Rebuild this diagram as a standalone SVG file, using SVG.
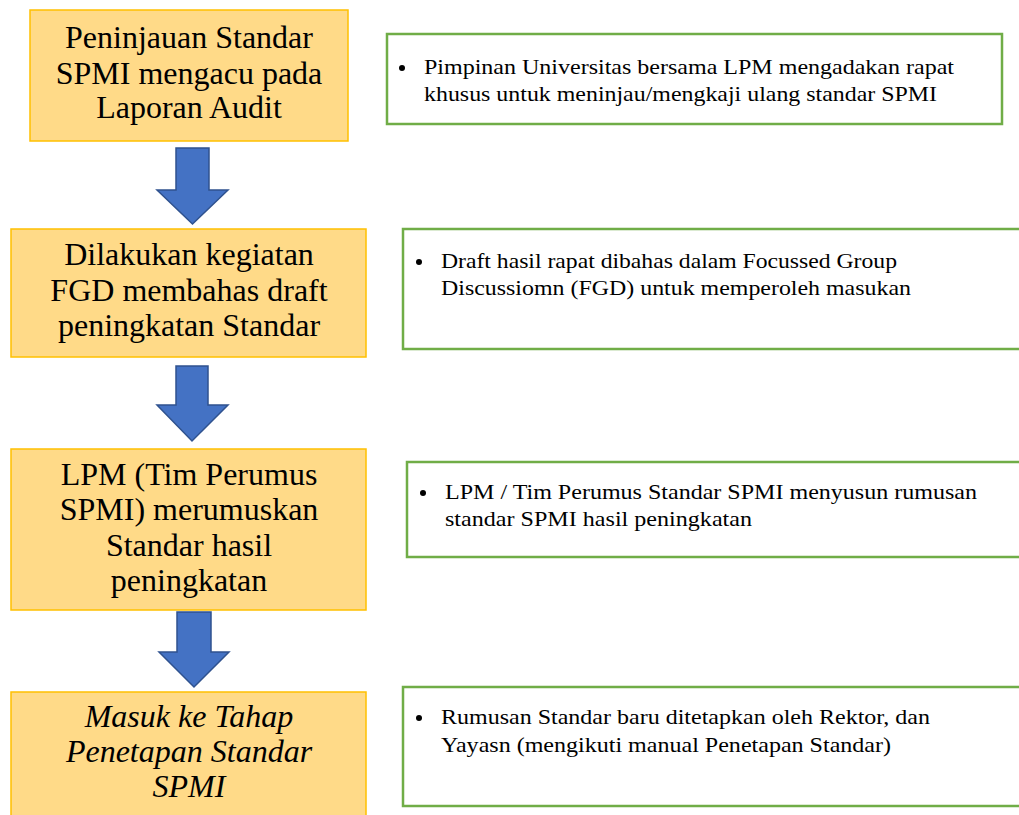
<svg xmlns="http://www.w3.org/2000/svg" width="1019" height="815" viewBox="0 0 1019 815">
<style>
.ob{fill:#FFDA88;stroke:#FFC000;stroke-width:1.5}
.gb{fill:#fff;stroke:#70AD47;stroke-width:2.5}
.ar{fill:#4472C4;stroke:#2F528F;stroke-width:1.5}
</style>
<g id="step1">
<rect class="ob" x="30" y="10" width="318" height="131"/>
<text font-family="Liberation Serif" font-size="32" text-anchor="middle" x="189" y="48">Peninjauan Standar</text>
<text font-family="Liberation Serif" font-size="32" text-anchor="middle" x="189" y="84">SPMI mengacu pada</text>
<text font-family="Liberation Serif" font-size="32" text-anchor="middle" x="189" y="118">Laporan Audit</text>
</g>
<g id="step2">
<rect class="ob" x="11" y="229" width="355" height="128"/>
<text font-family="Liberation Serif" font-size="32" text-anchor="middle" x="189" y="265">Dilakukan kegiatan</text>
<text font-family="Liberation Serif" font-size="32" text-anchor="middle" x="189" y="301">FGD membahas draft</text>
<text font-family="Liberation Serif" font-size="32" text-anchor="middle" x="189" y="336">peningkatan Standar</text>
</g>
<g id="step3">
<rect class="ob" x="11" y="449" width="355" height="161"/>
<text font-family="Liberation Serif" font-size="32" text-anchor="middle" x="189" y="485">LPM (Tim Perumus</text>
<text font-family="Liberation Serif" font-size="32" text-anchor="middle" x="189" y="520">SPMI) merumuskan</text>
<text font-family="Liberation Serif" font-size="32" text-anchor="middle" x="189" y="556">Standar hasil</text>
<text font-family="Liberation Serif" font-size="32" text-anchor="middle" x="189" y="591">peningkatan</text>
</g>
<g id="step4">
<rect class="ob" x="11" y="692" width="355" height="130"/>
<text font-family="Liberation Serif" font-size="32" font-style="italic" text-anchor="middle" x="189" y="727">Masuk ke Tahap</text>
<text font-family="Liberation Serif" font-size="32" font-style="italic" text-anchor="middle" x="189" y="762">Penetapan Standar</text>
<text font-family="Liberation Serif" font-size="32" font-style="italic" text-anchor="middle" x="189" y="797">SPMI</text>
</g>
<g id="note1">
<rect class="gb" x="387" y="34" width="615" height="90"/>
<circle cx="402" cy="68" r="3"/>
<text font-family="Liberation Serif" font-size="21" x="424" y="74" textLength="530" lengthAdjust="spacingAndGlyphs">Pimpinan Universitas bersama LPM mengadakan rapat</text>
<text font-family="Liberation Serif" font-size="21" x="424" y="101" textLength="513" lengthAdjust="spacingAndGlyphs">khusus untuk meninjau/mengkaji ulang standar SPMI</text>
</g>
<g id="note2">
<rect class="gb" x="403" y="229" width="620" height="120"/>
<circle cx="419" cy="262" r="3"/>
<text font-family="Liberation Serif" font-size="21" x="441" y="268" textLength="456" lengthAdjust="spacingAndGlyphs">Draft hasil rapat dibahas dalam Focussed Group</text>
<text font-family="Liberation Serif" font-size="21" x="441" y="295" textLength="470" lengthAdjust="spacingAndGlyphs">Discussiomn (FGD) untuk memperoleh masukan</text>
</g>
<g id="note3">
<rect class="gb" x="407" y="462" width="616" height="95"/>
<circle cx="423" cy="493" r="3"/>
<text font-family="Liberation Serif" font-size="21" x="445" y="499" textLength="532" lengthAdjust="spacingAndGlyphs">LPM / Tim Perumus Standar SPMI menyusun rumusan</text>
<text font-family="Liberation Serif" font-size="21" x="445" y="526" textLength="307" lengthAdjust="spacingAndGlyphs">standar SPMI hasil peningkatan</text>
</g>
<g id="note4">
<rect class="gb" x="403" y="687" width="620" height="119"/>
<circle cx="419" cy="718" r="3"/>
<text font-family="Liberation Serif" font-size="21" x="441" y="724" textLength="489" lengthAdjust="spacingAndGlyphs">Rumusan Standar baru ditetapkan oleh Rektor, dan</text>
<text font-family="Liberation Serif" font-size="21" x="441" y="752" textLength="450" lengthAdjust="spacingAndGlyphs">Yayasn (mengikuti manual Penetapan Standar)</text>
</g>
<g id="connectors">
<path class="ar" d="M176,148 H209 V190 H228 L192.5,224 L157,190 H176 Z"/>
<path class="ar" d="M176,366 H208 V405 H228 L192,441 L157,405 H176 Z"/>
<path class="ar" d="M177,612 H211 V652 H229 L194,687 L159,652 H177 Z"/>
</g>
</svg>
